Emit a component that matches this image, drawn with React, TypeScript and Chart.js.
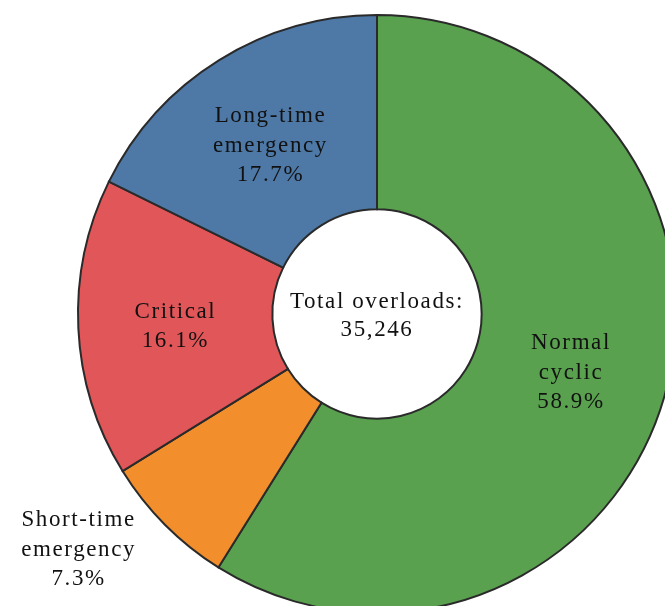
import React, { useEffect, useRef } from "react";
import { Chart, registerables } from "chart.js";

Chart.register(...registerables);

const categories: string[][] = [
  ["Normal", "cyclic"],
  ["Short-time", "emergency"],
  ["Critical"],
  ["Long-time", "emergency"],
];
const shares: number[] = [58.9, 7.3, 16.1, 17.7];
const colors: string[] = ["#59A14F", "#F28E2B", "#E15759", "#4E79A7"];
const totalLabel = "Total overloads:";
const totalValue = "35,246";
const outside: boolean[] = [false, true, false, false];

const FONT = '23px "Liberation Serif", serif';

const labelPlugin = {
  id: "sliceLabels",
  afterDraw(chart: any) {
    const ctx = chart.ctx as CanvasRenderingContext2D;
    const meta = chart.getDatasetMeta(0);
    ctx.save();
    (ctx as any).letterSpacing = "1.6px";
    ctx.font = FONT;
    ctx.fillStyle = "#111";
    ctx.textAlign = "center";
    ctx.textBaseline = "middle";
    const lh = 29.5;
    let cx = 0, cy = 0;
    meta.data.forEach((arc: any, i: number) => {
      const p = arc.getProps(["x", "y", "startAngle", "endAngle", "innerRadius", "outerRadius"], true);
      cx = p.x; cy = p.y;
      const mid = (p.startAngle + p.endAngle) / 2;
      let ang = mid;
      let r = (p.innerRadius + p.outerRadius) / 2;
      if (outside[i]) {
        ang = mid + (6.6 * Math.PI) / 180;
        r = p.outerRadius * 1.27;
      }
      const x = p.x + Math.cos(ang) * r;
      const y = p.y + Math.sin(ang) * r + (outside[i] ? 1 : 3);
      const lines = [...categories[i], shares[i].toFixed(1) + "%"];
      const y0 = y - ((lines.length - 1) * lh) / 2;
      lines.forEach((t, k) => ctx.fillText(t, x, y0 + k * lh));
    });
    ctx.fillText(totalLabel, cx, cy - 12);
    ctx.fillText(totalValue, cx, cy + 16);
    ctx.restore();
  },
};

export default function App() {
  const ref = useRef<HTMLCanvasElement | null>(null);
  useEffect(() => {
    if (!ref.current) return;
    const chart = new Chart(ref.current, {
      type: "doughnut",
      data: {
        labels: categories.map((c) => c.join(" ")),
        datasets: [
          {
            data: shares,
            backgroundColor: colors,
            borderColor: "#2a2a2a",
            borderWidth: 2,
            borderJoinStyle: "miter" as any,
          },
        ],
      },
      options: {
        responsive: false,
        animation: false,
        cutout: "35%",
        layout: { padding: { left: 77, top: 14, right: 23, bottom: 26 } },
        plugins: { legend: { display: false }, tooltip: { enabled: false } },
      },
      plugins: [labelPlugin],
    });
    return () => chart.destroy();
  }, []);
  return (
    <div style={{ position: "fixed", left: 0, top: 0, width: 665, height: 606, overflow: "hidden", background: "#fff" }}>
      <canvas ref={ref} width={700} height={640} style={{ width: 700, height: 640, display: "block" }} />
    </div>
  );
}
